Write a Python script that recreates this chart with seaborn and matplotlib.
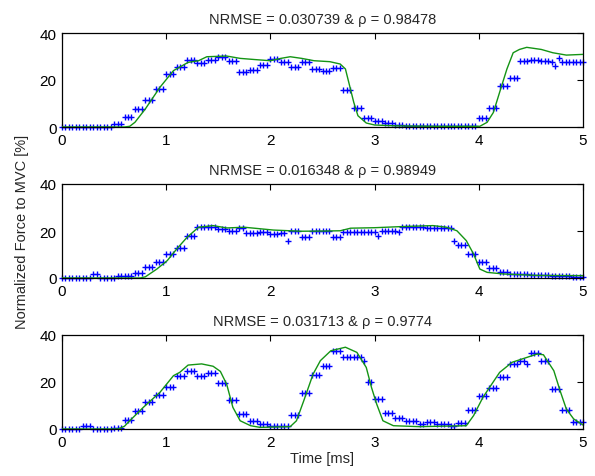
import numpy as np
import pandas as pd
import matplotlib
matplotlib.use("Agg")
import matplotlib.pyplot as plt
import seaborn as sns

# ---------------- data ----------------
titles = ["NRMSE = 0.030739 & ρ = 0.98478",
          "NRMSE = 0.016348 & ρ = 0.98949",
          "NRMSE = 0.031713 & ρ = 0.9774"]
x_ticks = [0, 1, 2, 3, 4, 5]
y_ticks = [0, 20, 40]
sample_rate = 30  # markers per ms

meas1 = [
    0, 0, 0, 0, 0, 0, 0, 0, 0, 0, 0, 0, 0, 0, 0,
    1.3, 1.3, 1.3, 4.1, 4.1, 4.1, 7.7, 7.7, 7.7, 11.5, 11.5, 11.5, 16.2, 16.2, 16.2,
    22.4, 22.4, 22.4, 25.4, 25.4, 25.4, 28.6, 28.6, 28.6, 27.2, 27.2, 27.2, 28.6, 28.6, 28.6,
    29.6, 29.6, 29.6, 28.0, 28.0, 28.0, 23.5, 23.5, 23.5, 24.2, 24.2, 24.2, 26.5, 26.5, 26.5,
    28.9, 28.9, 28.9, 27.8, 27.8, 27.8, 25.7, 25.7, 25.7, 27.5, 27.5, 27.5, 24.7, 24.7, 24.7,
    23.9, 23.9, 23.9, 25.0, 25.0, 25.0, 15.9, 15.9, 15.9, 7.9, 7.9, 7.9, 3.8, 3.8, 3.8,
    2.7, 2.7, 2.7, 1.7, 1.7, 1.7, 0.85, 0.85, 0.85, 0.5, 0.5, 0.5, 0.4, 0.4, 0.4,
    0.6, 0.6, 0.6, 0.3, 0.3, 0.3, 0.5, 0.5, 0.5, 0.4, 0.4, 0.4, 0.6, 0.6, 0.6,
    3.8, 3.8, 3.8, 7.9, 7.9, 7.9, 17.6, 17.6, 17.6, 20.8, 20.8, 20.8, 28.2, 28.2, 28.2,
    28.4, 28.4, 28.4, 28.0, 28.0, 28.0, 27.5, 26.0, 29.4, 27.5, 27.5, 27.5, 27.5, 27.5, 27.5,
    27.5]

meas2 = [
    0, 0, 0, 0, 0, 0, 0, 0, 0, 1.7, 1.7, 0, 0, 0, 0,
    0, 0.8, 0.8, 0.9, 0.9, 0.9, 2.0, 2.0, 2.0, 4.5, 4.5, 4.5, 6.9, 6.9, 6.9,
    10.2, 10.2, 10.2, 12.8, 12.8, 12.8, 17.7, 17.7, 17.7, 21.6, 21.6, 21.6, 21.9, 21.9, 21.9,
    20.9, 20.9, 20.9, 19.9, 19.9, 19.9, 21.2, 21.2, 19.0, 19.0, 19.0, 19.0, 19.4, 19.4, 19.4,
    18.7, 18.7, 18.7, 19.0, 19.0, 15.9, 20.0, 20.0, 20.0, 17.6, 17.6, 17.6, 19.9, 19.9, 19.9,
    19.9, 19.9, 19.9, 17.3, 17.3, 17.3, 19.4, 19.4, 19.4, 19.4, 19.4, 19.4, 19.4, 19.4, 19.4,
    19.4, 18.0, 20.1, 20.1, 20.1, 20.1, 20.1, 19.4, 21.6, 21.6, 21.6, 21.6, 21.6, 21.6, 21.6,
    21.2, 21.2, 21.2, 21.2, 21.2, 21.2, 21.2, 21.2, 15.6, 14.0, 14.0, 14.0, 10.2, 10.2, 10.2,
    6.7, 6.7, 6.7, 4.3, 4.3, 4.3, 2.4, 2.4, 2.4, 1.7, 1.7, 1.7, 1.5, 1.5, 1.5,
    1.4, 1.4, 1.4, 1.2, 1.2, 1.2, 1.0, 1.0, 1.0, 0.8, 0.8, 0.8, 0.5, 0.5, 0.5,
    0.3]

meas3 = [
    0, 0, 0, 0, 0, 0, 1.1, 1.1, 1.1, 0, 0, 0, 0, 0, 0,
    0.3, 0.3, 0.3, 3.8, 3.8, 3.8, 7.5, 7.5, 7.5, 11.3, 11.3, 11.3, 14.6, 14.6, 14.6,
    17.7, 17.7, 17.7, 22.7, 22.7, 22.7, 24.5, 24.5, 24.5, 22.4, 22.4, 22.4, 23.8, 23.8, 23.8,
    19.4, 19.4, 19.4, 12.5, 12.5, 12.5, 6.4, 6.4, 6.4, 3.5, 3.5, 3.5, 2.1, 2.1, 2.1,
    1.4, 1.4, 1.4, 1.4, 1.4, 1.4, 6.0, 6.0, 6.0, 15.2, 15.2, 15.2, 23.0, 23.0, 23.0,
    26.7, 26.7, 26.7, 33.3, 33.3, 33.3, 30.5, 30.5, 30.5, 30.5, 30.5, 30.5, 29.1, 20.1, 20.1,
    12.8, 12.8, 12.8, 6.8, 6.8, 6.8, 4.5, 4.5, 4.5, 3.5, 3.5, 3.5, 3.5, 2.1, 2.1,
    2.8, 2.8, 2.8, 2.1, 2.1, 2.1, 2.1, 1.4, 1.4, 2.4, 2.4, 2.4, 8.2, 8.2, 8.2,
    13.9, 13.9, 13.9, 17.4, 17.4, 17.4, 22.3, 22.3, 22.3, 27.7, 27.7, 27.7, 28.8, 28.8, 27.5,
    32.2, 32.2, 32.2, 29.1, 29.1, 29.1, 17.0, 17.0, 17.0, 8.2, 8.2, 8.2, 3.1, 3.1, 3.1,
    3.1]

fit1_t = [0, 0.6, 0.65, 0.7, 0.8, 0.94, 1.07, 1.21, 1.31, 1.39, 1.58, 1.71, 1.85, 2.0,
          2.1, 2.19, 2.3, 2.42, 2.57, 2.67, 2.72, 2.76, 2.8, 2.84, 2.92, 3.0, 3.2, 3.6,
          4.01, 4.08, 4.14, 4.2, 4.27, 4.33, 4.39, 4.46, 4.6, 4.71, 4.84, 5.0]
fit1_y = [0, 0, 0.3, 2.0, 7.7, 16.9, 24.0, 27.5, 28.2, 29.9, 30.2, 29.2, 28.7, 28.2,
          29.2, 29.9, 29.2, 28.2, 27.8, 26.8, 24.7, 17.6, 10.5, 4.8, 1.7, 0.85, 0.5, 0.3,
          0.3, 2.0, 6.2, 14.8, 24.7, 31.6, 33.0, 33.9, 33.0, 31.6, 30.6, 30.9]

fit2_t = [0, 0.75, 0.8, 0.91, 1.01, 1.1, 1.2, 1.31, 1.45, 1.58, 1.75, 2.03, 2.29, 2.54,
          2.67, 2.77, 3.0, 3.27, 3.56, 3.69, 3.79, 3.88, 3.95, 4.01, 4.08, 4.24, 4.56, 5.0]
fit2_y = [0, 0, 0.5, 3.8, 7.4, 12.3, 17.3, 21.6, 22.3, 21.3, 21.6, 20.4, 19.9, 20.0,
          20.1, 21.2, 21.4, 21.9, 22.3, 21.6, 20.1, 15.9, 10.2, 3.8, 2.4, 1.7, 1.1, 1.0]

fit3_t = [0, 0.54, 0.6, 0.65, 0.78, 0.94, 1.07, 1.13, 1.21, 1.34, 1.45, 1.52, 1.58, 1.64,
          1.71, 1.81, 1.9, 2.19, 2.25, 2.32, 2.41, 2.48, 2.58, 2.72, 2.83, 2.92, 2.97, 3.02,
          3.08, 3.18, 3.43, 3.88, 3.95, 4.04, 4.2, 4.32, 4.56, 4.62, 4.72, 4.78, 4.84, 4.91, 5.0]
fit3_y = [0, 0, 1.2, 3.5, 9.2, 15.6, 22.7, 24.1, 27.2, 27.7, 26.7, 24.5, 19.1, 9.2,
          3.5, 1.4, 0.7, 1.0, 3.5, 12.0, 23.4, 29.1, 33.3, 34.8, 32.6, 26.2, 17.7, 10.6,
          3.5, 1.4, 1.0, 1.4, 5.7, 13.5, 24.1, 28.4, 31.9, 31.6, 24.8, 16.3, 8.5, 4.3, 1.7]

measured = [meas1, meas2, meas3]
fits = [(fit1_t, fit1_y), (fit2_t, fit2_y), (fit3_t, fit3_y)]

# ---------------- style ----------------
sns.set_style("white")
plt.rcParams["font.family"] = ["Liberation Sans", "DejaVu Sans"]
plt.rcParams["font.size"] = 10
plt.rcParams["xtick.direction"] = "in"
plt.rcParams["ytick.direction"] = "in"

fig = plt.figure(figsize=(5.95, 4.77), dpi=100)
left, width = 62 / 595, (583 - 62) / 595
rows = [(34, 128), (185, 279), (336, 430)]

green = "#149414"
blue = "#0000ff"

for i, (top_px, bot_px) in enumerate(rows):
    ax = fig.add_axes([left, 1 - bot_px / 477, width, (bot_px - top_px) / 477])
    vals = measured[i]
    t = np.arange(len(vals)) / sample_rate
    df_m = pd.DataFrame({"t": t, "v": vals})
    df_f = pd.DataFrame({"t": fits[i][0], "v": fits[i][1]})
    sns.lineplot(data=df_f, x="t", y="v", ax=ax, color=green, linewidth=1.0,
                 estimator=None, sort=False, zorder=3)
    sns.scatterplot(data=df_m, x="t", y="v", ax=ax, marker="+", color=blue,
                    s=22, linewidth=1.0, zorder=2, clip_on=False)
    ax.set_xlim(0, 5)
    ax.set_ylim(0, 40)
    ax.set_xticks(x_ticks)
    ax.set_yticks(y_ticks)
    ax.set_xticklabels([str(v) for v in x_ticks])
    ax.set_yticklabels([str(v) for v in y_ticks])
    ax.tick_params(axis="both", which="both", direction="in", length=4, width=0.8,
                   top=True, right=True, labelsize=11, pad=4, colors="black")
    for sp in ax.spines.values():
        sp.set_visible(True)
        sp.set_color("black")
        sp.set_linewidth(0.9)
    ax.set_xlabel("")
    ax.set_ylabel("")
    ax.set_title(titles[i], fontsize=10.5, pad=7)
    if i == 2:
        ax.set_xlabel("Time [ms]", fontsize=10.5, labelpad=2)

fig.text(22 / 595, 1 - 232 / 477, "Normalized Force to MVC [%]", rotation=90,
         ha="center", va="center", fontsize=10.5)

fig.savefig("out.png", dpi=100)
